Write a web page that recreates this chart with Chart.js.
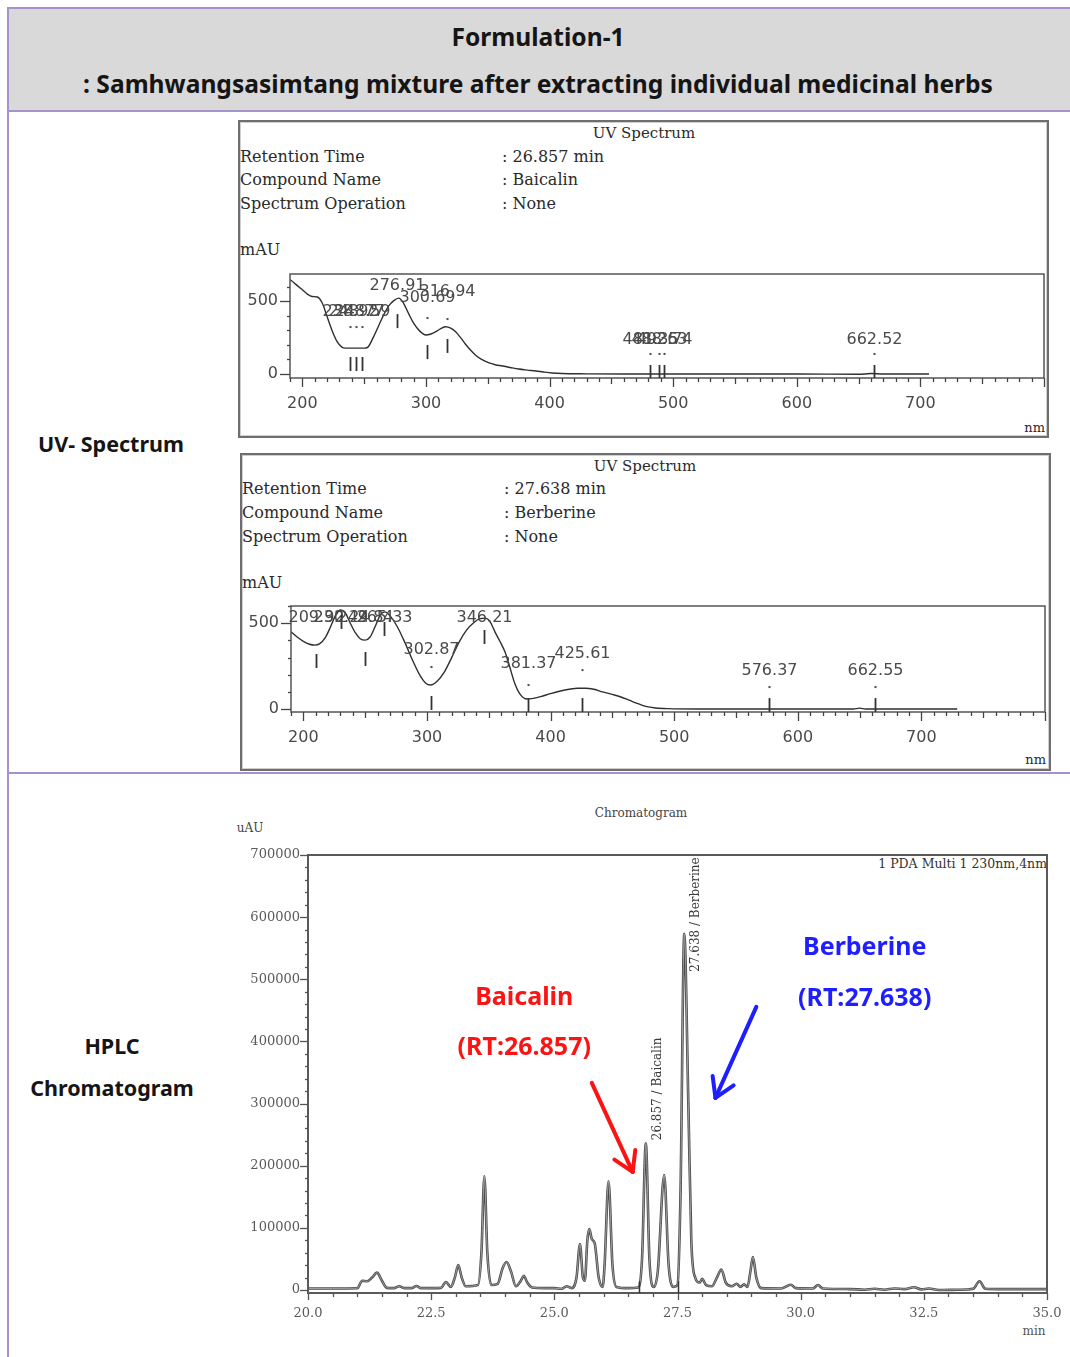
<!DOCTYPE html>
<html><head><meta charset="utf-8">
<script src="https://cdn.jsdelivr.net/npm/chart.js@4.4.1/dist/chart.umd.min.js"></script>
<style>
html,body{margin:0;padding:0;background:#fff}
body{width:1070px;height:1357px;position:relative;overflow:hidden;font-family:'Noto Sans',sans-serif}
.abs{position:absolute}
.t{position:absolute;white-space:nowrap;height:24px;line-height:24px}
.c{transform:translateX(-50%)}
.r{transform:translateX(-100%)}
.hdr{font-weight:700;font-size:24.6px;color:#151515}
.lab{font-weight:700;font-size:21.5px;color:#151515}
.serif{font-family:'DejaVu Serif',serif;color:#2a2a2a}
.box{position:absolute;box-sizing:border-box;border:2px solid #6e6e6e;box-shadow:inset 0 0 0 1px #cfcfcf}
canvas{position:absolute}
.purple{position:absolute;background:#a592cb}
</style></head><body>

<div class="abs" style="left:7px;top:7px;width:1080px;height:105px;box-sizing:border-box;border:2px solid #a592cb;background:#d9d9d9"></div>
<div class="purple" style="left:7px;top:7px;width:2px;height:1357px"></div>
<div class="purple" style="left:7px;top:772px;width:1070px;height:2px"></div>

<div class="t c hdr" style="left:538px;top:25px">Formulation-1</div>
<div class="t c hdr" style="left:538px;top:72px">: Samhwangsasimtang mixture after extracting individual medicinal herbs</div>

<div class="t c lab" style="left:111px;top:432px">UV- Spectrum</div>
<div class="t c lab" style="left:112px;top:1034px">HPLC</div>
<div class="t c lab" style="left:112px;top:1076px">Chromatogram</div>

<div class="box" style="left:238px;top:120px;width:811px;height:318px"></div>
<div class="box" style="left:240px;top:453px;width:811px;height:318px"></div>

<div class="t c serif" style="left:644px;top:121px;font-size:15px">UV Spectrum</div>
<div class="t serif" style="left:240px;top:145px;font-size:16px">Retention Time</div>
<div class="t serif" style="left:240px;top:168px;font-size:16px">Compound Name</div>
<div class="t serif" style="left:240px;top:192px;font-size:16px">Spectrum Operation</div>
<div class="t serif" style="left:502px;top:145px;font-size:16px">: 26.857 min</div>
<div class="t serif" style="left:502px;top:168px;font-size:16px">: Baicalin</div>
<div class="t serif" style="left:502px;top:192px;font-size:16px">: None</div>
<div class="t serif" style="left:240px;top:238px;font-size:16px">mAU</div>
<div class="t r serif" style="left:1045px;top:416px;font-size:13px">nm</div>

<div class="t c serif" style="left:645px;top:454px;font-size:15px">UV Spectrum</div>
<div class="t serif" style="left:242px;top:477px;font-size:16px">Retention Time</div>
<div class="t serif" style="left:242px;top:501px;font-size:16px">Compound Name</div>
<div class="t serif" style="left:242px;top:525px;font-size:16px">Spectrum Operation</div>
<div class="t serif" style="left:504px;top:477px;font-size:16px">: 27.638 min</div>
<div class="t serif" style="left:504px;top:501px;font-size:16px">: Berberine</div>
<div class="t serif" style="left:504px;top:525px;font-size:16px">: None</div>
<div class="t serif" style="left:242px;top:571px;font-size:16px">mAU</div>
<div class="t r serif" style="left:1046px;top:748px;font-size:13px">nm</div>

<div class="t c serif" style="left:641px;top:801px;font-size:12px;color:#444">Chromatogram</div>
<div class="t c serif" style="left:250px;top:816px;font-size:12px;color:#444">uAU</div>
<div class="t r serif" style="left:1047px;top:852px;font-size:12.5px;color:#333">1 PDA Multi 1 230nm,4nm</div>
<div class="t c serif" style="left:1034px;top:1319px;font-size:12px;color:#555">min</div>

<canvas id="spec1" width="808" height="160" style="left:240px;top:262px"></canvas>
<canvas id="spec2" width="808" height="160" style="left:242px;top:594px"></canvas>
<canvas id="chrom" width="850" height="545" style="left:220px;top:800px"></canvas>

<script>
// ---------- Data: UV spectrum 1 (Baicalin, RT 26.857 min) ----------
const spec1Nm  = [190,193,197,200,204,208,212,216,220,224,228,232,235,250,253,257,262,266,270,274,278,282,286,290,295,300,304,308,312,316,320,324,328,332,336,340,345,351,356,362,368,375,382,389,395,402,410,430,460,500,600,650,660,670,707];
const spec1MAU = [650,630,600,580,550,533,530,490,395,300,225,185,178,178,185,245,337,410,470,505,522,485,415,350,295,268,275,291,312,325,315,290,250,205,165,131,100,76,64,55,45,34,27,21,14,7,3,1,0,0,0,-2,3,0,0];
// peak annotations of spectrum 1
const spec1PeakNm     = [238.92,243.77,248.59,276.91,300.69,316.94,481.35,488.63,492.74,662.52];
const spec1PeakLabelY = [426,426,426,605,523,564,234,234,234,234];
const spec1PeakDotY   = [323,323,323,null,385,378,138,138,138,138];
const spec1PeakTickY  = [69,69,69,364,151,193,14,14,14,14];

// ---------- Data: UV spectrum 2 (Berberine, RT 27.638 min) ----------
const spec2Nm  = [190,195,200,205,209,213,218,222,226,230,234,238,242,246,250,254,258,262,266,270,276,282,288,294,299,303,308,314,320,326,332,338,343,347,351,355,359,363,367,371,375,381,386,392,400,408,415,422,428,435,442,450,457,464,470,477,485,495,520,645,650,655,729];
const spec2MAU = [451,420,395,378,373,380,420,480,545,578,560,500,445,410,402,420,480,545,567,545,480,390,290,200,150,140,160,215,300,390,460,505,527,530,510,450,395,335,245,150,90,58,62,72,90,105,115,121,121,115,100,85,70,50,33,15,6,2,0,0,5,0,0];
const spec2PeakNm     = [209.92,230.24,249.84,265.33,302.87,346.21,381.37,425.61,576.37,662.55];
const spec2PeakLabelY = [531,531,531,531,344,531,262,320,222,222];
const spec2PeakDotY   = [null,null,null,null,245,null,140,227,128,128];
const spec2PeakTickY  = [280,508,292,467,35,420,23,23,23,23];

const specXTicks = [200,300,400,500,600,700];
const specYTicks = [0,500];

// ---------- Data: HPLC chromatogram (PDA 230 nm) ----------
const chromTime = [20.0,20.5,21.0,21.1,21.2,21.3,21.4,21.5,21.6,21.75,21.85,21.95,22.1,22.2,22.3,22.7,22.8,22.9,22.98,23.05,23.12,23.2,23.45,23.52,23.58,23.64,23.72,23.85,23.95,24.03,24.12,24.22,24.32,24.38,24.45,24.55,24.8,25.0,25.15,25.25,25.35,25.45,25.52,25.58,25.62,25.67,25.71,25.76,25.82,25.9,25.98,26.02,26.1,26.18,26.26,26.5,26.7,26.78,26.857,26.93,27.02,27.1,27.23,27.32,27.42,27.5,27.56,27.638,27.72,27.78,27.86,27.95,28.0,28.08,28.2,28.3,28.39,28.48,28.6,28.7,28.78,28.85,28.92,28.98,29.03,29.1,29.2,29.6,29.8,29.9,30.25,30.35,30.45,31.0,31.3,31.5,31.7,31.9,32.1,32.3,32.45,32.6,32.8,33.2,33.5,33.63,33.75,34.0,35.0];
const chromUAU  = [2500,2500,2800,15000,14000,20000,28000,15000,3500,3000,6000,3000,3000,6500,3000,3500,13000,5000,20000,40000,20000,6000,8000,60000,183000,60000,8000,10000,35000,45000,30000,6000,15000,23000,12000,4000,3000,3000,2000,6000,3000,20000,74000,20000,15000,80000,98000,82000,75000,20000,5000,40000,175000,40000,5000,3000,4000,50000,236000,50000,5000,30000,185000,40000,5000,8000,150000,573000,300000,80000,20000,12000,18000,8000,6000,20000,33000,12000,6000,10000,5000,9000,5000,30000,53000,20000,3000,2500,8500,3000,2500,8000,2500,1500,500,2000,500,2500,1500,4500,1000,2500,0,500,2000,14000,2000,1500,1500];
const chromXTicks = [20.0,22.5,25.0,27.5,30.0,32.5,35.0];
const chromYTicks = [0,100000,200000,300000,400000,500000,600000,700000];

// peak labels & annotations
const peakRT    = [26.857, 27.638];
const peakName  = ['Baicalin', 'Berberine'];
const peakLabelStart = [241000, 512000];
const annotColor = ['#fa1414', '#1e1eff'];
const annotX     = [24.39, 31.30];
const annotNameY = [470200, 550700];
const annotRTY   = [389700, 468600];
const arrowFromT = [25.76, 29.10];
const arrowFromV = [333300, 455700];
const arrowToT   = [26.59, 28.27];
const arrowToV   = [190000, 309200];
const baseMarkT  = [26.72, 27.50];

function pts(xs, ys){ return xs.map((x,i)=>({x:x,y:ys[i]})); }
function seg(ctx,x1,y1,x2,y2){ ctx.beginPath(); ctx.moveTo(x1,y1); ctx.lineTo(x2,y2); ctx.stroke(); }
function noPad(s){ s.paddingTop=0; s.paddingBottom=0; s.paddingLeft=0; s.paddingRight=0; }

function specDecor(peakNm, labelY, dotY, tickY){
  return {
    id:'specDecor',
    afterDatasetsDraw(chart){
      const {ctx, chartArea:a, scales:{x,y}} = chart;
      ctx.save();
      ctx.strokeStyle='#555'; ctx.lineWidth=1.5;
      ctx.strokeRect(a.left, a.top, a.right-a.left, a.bottom-a.top);
      ctx.lineWidth=1.3; ctx.strokeStyle='#444';
      for(let v=190; v<=800; v+=10){
        const len = v%100===0 ? 9 : (v%50===0 ? 6 : 4);
        const px = Math.round(x.getPixelForValue(v))+0.5;
        seg(ctx, px, a.bottom, px, a.bottom+len);
      }
      for(let v=0; v<=y.max; v+=100){
        const len = v%500===0 ? 10 : 3;
        const py = Math.round(y.getPixelForValue(v))+0.5;
        seg(ctx, a.left-len, py, a.left, py);
      }
      // peak markers
      ctx.font = "16px 'DejaVu Sans'";
      ctx.fillStyle = '#4a4a4a';
      ctx.textAlign='center'; ctx.textBaseline='middle';
      peakNm.forEach((nm,i)=>{
        const px = Math.round(x.getPixelForValue(nm))+0.5;
        ctx.fillText(nm.toFixed(2), px, y.getPixelForValue(labelY[i]));
        if(dotY[i]!==null){ ctx.fillRect(px-1, y.getPixelForValue(dotY[i])-1, 2, 2); }
        const ty = y.getPixelForValue(tickY[i]);
        ctx.lineWidth=1.8; ctx.strokeStyle='#333';
        seg(ctx, px, ty-7, px, Math.min(ty+7, a.bottom));
      });
      ctx.restore();
    }
  };
}

function specChart(id, xs, ys, ymin, ymax, yW, padR, xH, decor){
  return new Chart(document.getElementById(id), {
    type:'line',
    data:{datasets:[{data:pts(xs,ys), borderColor:'#2f2f2f', borderWidth:1.4, pointRadius:0, cubicInterpolationMode:'monotone', fill:false}]},
    options:{
      responsive:false, animation:false, devicePixelRatio:1, events:[],
      plugins:{legend:{display:false}, tooltip:{enabled:false}},
      layout:{padding:{left:0, right:padR, top:12, bottom:0}},
      scales:{
        x:{type:'linear', min:190, max:800,
           afterBuildTicks:s=>{ s.ticks = specXTicks.map(v=>({value:v})); },
           afterFit:s=>{ s.height = xH; noPad(s); },
           grid:{display:false}, border:{display:false},
           ticks:{font:{family:'DejaVu Sans', size:16}, color:'#4a4a4a', padding:8, maxRotation:0, autoSkip:false, callback:v=>String(v)}},
        y:{type:'linear', min:ymin, max:ymax,
           afterBuildTicks:s=>{ s.ticks = specYTicks.map(v=>({value:v})); },
           afterFit:s=>{ s.width = yW; noPad(s); },
           grid:{display:false}, border:{display:false},
           ticks:{font:{family:'DejaVu Sans', size:16}, color:'#4a4a4a', padding:4, autoSkip:false, callback:v=>String(v)}}
      }
    },
    plugins:[decor]
  });
}

specChart('spec1', spec1Nm, spec1MAU, -27.5, 688, 50, 4, 44,
  specDecor(spec1PeakNm, spec1PeakLabelY, spec1PeakDotY, spec1PeakTickY));
specChart('spec2', spec2Nm, spec2MAU, -17.5, 601, 49, 5, 42,
  specDecor(spec2PeakNm, spec2PeakLabelY, spec2PeakDotY, spec2PeakTickY));

const chromDecor = {
  id:'chromDecor',
  afterDatasetsDraw(chart){
    const {ctx, chartArea:a, scales:{x,y}} = chart;
    ctx.save();
    ctx.lineWidth=2; ctx.strokeStyle='#5a5a5a';
    ctx.strokeRect(a.left, a.top, a.right-a.left, a.bottom-a.top);
    ctx.lineWidth=1.3; ctx.strokeStyle='#555';
    for(let k=0; k<=30; k++){
      const v = 20 + k*0.5;
      const len = k%5===0 ? 7 : 4;
      const px = Math.round(x.getPixelForValue(v))+0.5;
      seg(ctx, px, a.bottom, px, a.bottom+len);
    }
    for(let v=0; v<=700000; v+=20000){
      const len = v%100000===0 ? 8 : 3;
      const py = Math.round(y.getPixelForValue(v))+0.5;
      seg(ctx, a.left-len, py, a.left, py);
    }
    // integration base markers
    ctx.lineWidth=1.5; ctx.strokeStyle='#333';
    baseMarkT.forEach(t=>{
      const px = Math.round(x.getPixelForValue(t))+0.5;
      seg(ctx, px, y.getPixelForValue(14000), px, a.bottom);
    });
    // rotated peak labels
    ctx.font = "12px 'DejaVu Serif'";
    ctx.fillStyle='#3a3a3a'; ctx.textAlign='left'; ctx.textBaseline='middle';
    peakRT.forEach((rt,i)=>{
      ctx.save();
      ctx.translate(x.getPixelForValue(rt)+12, y.getPixelForValue(peakLabelStart[i]));
      ctx.rotate(-Math.PI/2);
      ctx.fillText(rt.toFixed(3)+' / '+peakName[i], 0, 0);
      ctx.restore();
    });
    // coloured annotations
    ctx.font = "bold 25px 'Noto Sans'";
    ctx.textAlign='center';
    peakRT.forEach((rt,i)=>{
      ctx.fillStyle = annotColor[i];
      ctx.fillText(peakName[i], x.getPixelForValue(annotX[i]), y.getPixelForValue(annotNameY[i]));
      ctx.fillText('(RT:'+rt.toFixed(3)+')', x.getPixelForValue(annotX[i]), y.getPixelForValue(annotRTY[i]));
      const x1=x.getPixelForValue(arrowFromT[i]), y1=y.getPixelForValue(arrowFromV[i]);
      const x2=x.getPixelForValue(arrowToT[i]),   y2=y.getPixelForValue(arrowToV[i]);
      ctx.strokeStyle = annotColor[i]; ctx.lineWidth=4; ctx.lineCap='round';
      seg(ctx,x1,y1,x2,y2);
      const ang = Math.atan2(y2-y1, x2-x1);
      [0.55,-0.55].forEach(d=>{
        seg(ctx, x2, y2, x2 - 22*Math.cos(ang+d), y2 - 22*Math.sin(ang+d));
      });
    });
    ctx.restore();
  }
};

const chromPts = pts(chromTime, chromUAU);
new Chart(document.getElementById('chrom'), {
  type:'line',
  data:{datasets:[
    {data:chromPts, borderColor:'#a8a8a8', borderWidth:0.9, pointRadius:0, cubicInterpolationMode:'monotone', fill:false, order:0},
    {data:chromPts, borderColor:'#4a4a4a', borderWidth:2.6, pointRadius:0, cubicInterpolationMode:'monotone', fill:false, order:1}
  ]},
  options:{
    responsive:false, animation:false, devicePixelRatio:1, events:[],
    plugins:{legend:{display:false}, tooltip:{enabled:false}},
    layout:{padding:{left:0, right:23, top:55, bottom:0}},
    scales:{
      x:{type:'linear', min:20, max:35,
         afterBuildTicks:s=>{ s.ticks = chromXTicks.map(v=>({value:v})); },
         afterFit:s=>{ s.height = 52; noPad(s); },
         grid:{display:false}, border:{display:false},
         ticks:{font:{family:'DejaVu Serif', size:13}, color:'#5a5a5a', padding:5, maxRotation:0, autoSkip:false, callback:v=>Number(v).toFixed(1)}},
      y:{type:'linear', min:-4800, max:700000,
         afterBuildTicks:s=>{ s.ticks = chromYTicks.map(v=>({value:v})); },
         afterFit:s=>{ s.width = 88; noPad(s); },
         grid:{display:false}, border:{display:false},
         ticks:{font:{family:'DejaVu Serif', size:13}, color:'#5a5a5a', padding:0, autoSkip:false, callback:v=>String(v)}}
    }
  },
  plugins:[chromDecor]
});
</script>
</body></html>
